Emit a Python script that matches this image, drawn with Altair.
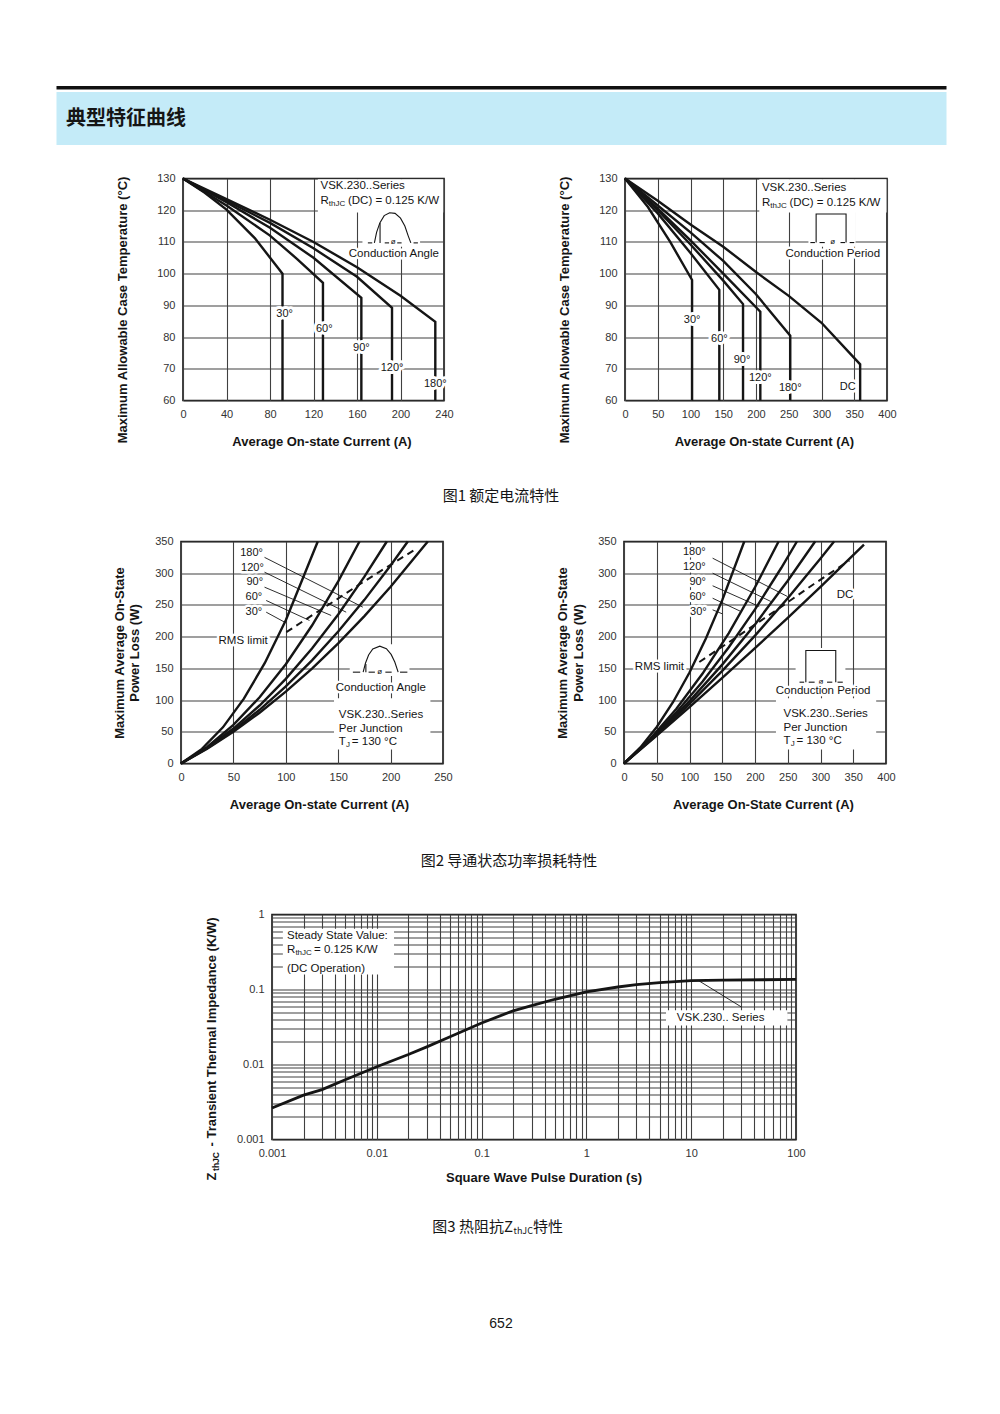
import altair as alt
import pandas as pd

FONT = "Liberation Sans"
CJK = "Noto Sans CJK SC"
INK = "#151515"
GRID = "#404040"
LBL = "#333333"

# ============================ DATA ============================
# Fig.1 left: sinusoidal conduction, max case temperature (°C) vs average current (A)
f1a_names = ["30°", "60°", "90°", "120°", "180°"]
f1a_x = [[0, 20, 40, 66, 91.5, 91.5],
         [0, 40, 80, 105, 128.7, 128.7],
         [0, 40, 80, 120, 164, 164],
         [0, 40, 80, 120, 160, 192.2, 192.2],
         [0, 40, 80, 120, 160, 200, 232, 232]]
f1a_y = [[130, 125.5, 120.2, 111.2, 100, 60],
         [130, 121.5, 112, 104.6, 97.1, 60],
         [130, 122.5, 114.5, 105, 92.4, 60],
         [130, 123, 116, 108, 99, 89.2, 60],
         [130, 123.5, 117, 110, 102, 93, 84.8, 60]]
f1a_lx = [93.4, 129.9, 164, 192.2, 232]
f1a_ly = [87.3, 82.4, 76.4, 70.3, 65.2]

# Fig.1 right: rectangular conduction
f1b_names = ["30°", "60°", "90°", "120°", "180°", "DC"]
f1b_x = [[0, 35, 69, 102.4, 102.4],
         [0, 50, 100, 144, 144],
         [0, 50, 100, 150, 180.2, 180.2],
         [0, 50, 100, 150, 206.6, 206.6],
         [0, 50, 100, 150, 200, 252.3, 252.3],
         [0, 50, 100, 150, 200, 250, 300, 359, 359]]
f1b_y = [[130, 121, 110, 98, 60],
         [130, 119, 106.5, 94.9, 60],
         [130, 120, 109.2, 97.8, 90.4, 60],
         [130, 120.5, 110.5, 100, 88, 60],
         [130, 121.5, 113, 104, 93.5, 80.4, 60],
         [130, 123, 115.5, 108.5, 100.5, 93, 84.5, 71.4, 60]]
f1b_lx = [102.4, 144, 178.6, 206.6, 252.3, 340]
f1b_ly = [85.4, 79.4, 72.7, 67.2, 63.8, 64.3]

# Fig.2 left: sinusoidal, on-state power loss (W) vs average current (A)
f2a_names = ["30°", "60°", "90°", "120°", "180°"]
f2a_x = [[0, 20, 40, 60, 80, 100, 130.5],
         [0, 25, 50, 75, 100, 125, 150, 170.3],
         [0, 25, 50, 75, 100, 125, 150, 175, 196.4],
         [0, 25, 50, 75, 100, 125, 150, 175, 200, 216.4],
         [0, 25, 50, 75, 100, 125, 150, 175, 200, 235.5]]
f2a_y = [[0, 23.0, 57.0, 102.2, 158.5, 225.9, 350],
         [0, 26.1, 60.9, 104.4, 156.6, 217.5, 287.1, 350],
         [0, 24.7, 55.1, 91.4, 133.4, 181.3, 235.0, 294.5, 350],
         [0, 23.9, 52.1, 84.7, 121.5, 162.7, 208.2, 258.0, 312.1, 350],
         [0, 23.4, 50.0, 80.0, 113.2, 149.6, 189.4, 232.4, 278.6, 350]]
f2a_rms_x = [100.5, 124.5, 148, 169, 190, 222]
f2a_rms_y = [207, 233, 258, 281, 303, 336]
f2a_lx = [67.3, 68.2, 70.4, 69.5, 69.5]
f2a_ly = [332, 308.7, 286, 262.3, 238.6]
f2a_lbl = ["180°", "120°", "90°", "60°", "30°"]
f2a_lead_x = [79.7, 79.7, 79.7, 81.3, 81.3]
f2a_lead_y = [325, 301.6, 278, 257, 238.6]
f2a_lead_x2 = [173.5, 157.6, 143.3, 122.6, 98.8]
f2a_lead_y2 = [246.5, 238.6, 233.4, 225.5, 222.9]

# Fig.2 right: rectangular
f2b_names = ["30°", "60°", "90°", "120°", "180°", "DC"]
f2b_x = [[0, 25, 50, 75, 100, 125, 150, 183.6],
         [0, 40, 80, 120, 160, 200, 236],
         [0, 40, 80, 120, 160, 200, 240, 264],
         [0, 50, 100, 150, 200, 250, 291.8],
         [0, 50, 100, 150, 200, 250, 300, 320.7],
         [0, 50, 100, 150, 200, 250, 300, 366.4]]
f2b_y = [[0, 25.3, 57.6, 97.0, 143.5, 197.0, 257.5, 350],
         [0, 39.0, 86.2, 141.8, 205.7, 277.9, 350],
         [0, 37.6, 80.7, 129.3, 183.4, 243.0, 308.2, 350],
         [0, 46.3, 98.3, 155.9, 219.2, 288.1, 350],
         [0, 45.2, 93.9, 146.0, 201.6, 260.6, 323.1, 350],
         [0, 44.0, 89.0, 134.9, 181.8, 229.7, 278.6, 345]]
f2b_rms_x = [115, 170, 230, 290, 344]
f2b_rms_y = [160, 198, 240, 283, 320]
f2b_lx = [107.4, 107.4, 112.5, 112.5, 113.5]
f2b_ly = [334.2, 309.5, 285.9, 262.2, 239.6]
f2b_lbl = ["180°", "120°", "90°", "60°", "30°"]
f2b_lead_x = [135.3, 135.3, 135.3, 135.3, 135.3]
f2b_lead_y = [323.7, 300, 280.2, 260.6, 242.3]
f2b_lead_x2 = [249.6, 224.3, 206.5, 178.6, 150]
f2b_lead_y2 = [263.3, 255.4, 247.5, 239.6, 236]

# Fig.3: transient thermal impedance (K/W) vs pulse duration (s)
f3_t = [0.001, 0.002, 0.003, 0.005, 0.01, 0.02, 0.03, 0.05, 0.1, 0.2, 0.3, 0.5,
        1, 2, 3, 5, 10, 20, 50, 100]
f3_z = [0.00263, 0.0039, 0.00462, 0.00627, 0.00935, 0.0136, 0.0172, 0.0234, 0.0358,
        0.0519, 0.0608, 0.0741, 0.0931, 0.108, 0.1164, 0.1233, 0.1315, 0.1333, 0.1349, 0.1361]

# tick values
ticks_240 = [0, 40, 80, 120, 160, 200, 240]
ticks_400 = [0, 50, 100, 150, 200, 250, 300, 350, 400]
ticks_250 = [0, 50, 100, 150, 200, 250]
ticks_temp = [60, 70, 80, 90, 100, 110, 120, 130]
ticks_pow = [0, 50, 100, 150, 200, 250, 300, 350]
log_x = [k * 10.0 ** e for e in range(-3, 2) for k in range(1, 10)] + [100]
log_y = [k * 10.0 ** e for e in range(-3, 0) for k in range(1, 10)] + [1]


# ============================ HELPERS ============================
def lines_df(names, xs, ys):
    return pd.DataFrame([{"s": n, "i": i, "x": a, "y": b}
                         for n, xl, yl in zip(names, xs, ys)
                         for i, (a, b) in enumerate(zip(xl, yl))])


def make_axis(vals, title, tx, ty, orient, lh=None, expr=None):
    kw = dict(values=vals, title=title, grid=True, gridColor=GRID, gridWidth=1.1, gridOpacity=1,
              domain=False, ticks=False, tickSize=0, labelPadding=8, labelFlush=False,
              labelOverlap=False, labelFont=FONT, labelFontSize=11, labelColor=LBL,
              titleFont=FONT, titleFontSize=13, titleFontWeight="bold", titleColor=INK,
              titleX=tx, titleY=ty, titleAlign="center")
    if orient == "left":
        kw.update(titleAngle=270, titleBaseline="middle")
    else:
        kw.update(titleBaseline="top")
    if lh:
        kw["titleLineHeight"] = lh
    if expr:
        kw["labelExpr"] = expr
    return alt.Axis(**kw)


class Panel:
    def __init__(self, w, h, xdom, ydom, xa, ya, log=False):
        self.w, self.h = w, h
        if log:
            self.xs = alt.Scale(type="log", domain=xdom, nice=False)
            self.ys = alt.Scale(type="log", domain=ydom, nice=False)
        else:
            self.xs = alt.Scale(domain=xdom, nice=False, zero=False)
            self.ys = alt.Scale(domain=ydom, nice=False, zero=False)
        self.xa, self.ya = xa, ya
        self.layers = []

    def X(self):
        return alt.X("x:Q", scale=self.xs, axis=self.xa)

    def Y(self):
        return alt.Y("y:Q", scale=self.ys, axis=self.ya)

    def rects(self, x, x2, y, y2):
        df = pd.DataFrame({"x": x, "x2": x2, "y": y, "y2": y2})
        self.layers.append(alt.Chart(df).mark_rect(color="white").encode(
            x=self.X(), x2=alt.X2(field="x2"), y=self.Y(), y2=alt.Y2(field="y2")))

    def lines(self, df, width=2.4, dash=None):
        m = dict(color=INK, strokeWidth=width, strokeJoin="miter", strokeCap="butt")
        if dash:
            m["strokeDash"] = dash
        self.layers.append(alt.Chart(df).mark_line(**m).encode(
            x=self.X(), y=self.Y(), detail="s:N", order="i:Q"))

    def rules(self, x, y, x2, y2, width=0.9):
        df = pd.DataFrame({"x": x, "y": y, "x2": x2, "y2": y2})
        self.layers.append(alt.Chart(df).mark_rule(color=INK, strokeWidth=width).encode(
            x=self.X(), y=self.Y(), x2=alt.X2(field="x2"), y2=alt.Y2(field="y2")))

    def texts(self, x, y, t, size=11.5, align="left", dx=0, dy=0, halo=0, bold=False):
        df = pd.DataFrame({"x": x, "y": y, "t": t})
        common = dict(align=align, baseline="middle", fontSize=size, font=FONT, dx=dx, dy=dy,
                      fontWeight="bold" if bold else "normal")
        enc = dict(x=self.X(), y=self.Y(), text=alt.Text("t:N"))
        if halo:
            self.layers.append(alt.Chart(df).mark_text(color="white", stroke="white",
                                                       strokeWidth=halo, strokeJoin="round",
                                                       **common).encode(**enc))
        self.layers.append(alt.Chart(df).mark_text(color=INK, **common).encode(**enc))

    def chart(self):
        return alt.layer(*self.layers).properties(
            width=self.w, height=self.h,
            view=alt.ViewBackground(stroke=INK, strokeWidth=1.6))


def spacer(w, h, fill=None):
    c = alt.Chart(pd.DataFrame({"v": [0]})).mark_point(opacity=0).properties(width=w, height=h)
    if fill:
        c = c.properties(view=alt.ViewBackground(fill=fill, stroke="transparent"))
    else:
        c = c.properties(view=alt.ViewBackground(stroke="transparent"))
    return c


def text_unit(w, h, items, fill=None):
    layers = []
    for (x, y, t, size, align, font, weight) in items:
        layers.append(alt.Chart(pd.DataFrame({"t": [t]})).mark_text(
            align=align, baseline="middle", fontSize=size, font=font, fontWeight=weight,
            color=INK).encode(x=alt.value(x), y=alt.value(y), text=alt.Text("t:N")))
    c = alt.layer(*layers).properties(width=w, height=h)
    if fill:
        c = c.properties(view=alt.ViewBackground(fill=fill, stroke="transparent"))
    else:
        c = c.properties(view=alt.ViewBackground(stroke="transparent"))
    return c


def r_thjc(P, x, y, rest, rest_dx=27.5):
    P.texts([x], [y], ["R"])
    P.texts([x], [y], ["thJC"], size=8, dx=8.4, dy=3)
    P.texts([x], [y], [rest], dx=rest_dx)


def tj(P, x, y):
    P.texts([x], [y], ["T"])
    P.texts([x], [y], ["J"], size=8, dx=7.2, dy=3)
    P.texts([x], [y], ["= 130 °C"], dx=13)


# ============================ FIG 1 LEFT ============================
W, H = 261, 222
P1 = Panel(W, H, [0, 240], [60, 130],
           make_axis(ticks_240, "Average On-state Current (A)", W / 2 + 8, 35, "bottom"),
           make_axis(ticks_temp, "Maximum Allowable Case Temperature (°C)", -61, H / 2 + 20, "left"))
P1.rects([124, 165], [239.3, 218], [119.3, 108.5], [129.8, 119.5])
P1.lines(lines_df(["hump", "v", "d1", "d2", "d3", "d4"],
                  [[176, 178, 181, 185, 190, 195, 200, 204, 207, 209.5], [181.2, 181.2],
                   [170, 174], [185.5, 189.5], [197, 201], [212, 216]],
                  [[109.7, 113, 116, 118.3, 119.2, 119, 117.5, 115, 112, 109.7], [109.7, 116],
                   [109.7, 109.7], [109.7, 109.7], [109.7, 109.7], [109.7, 109.7]]), width=1.1)
P1.lines(lines_df(f1a_names, f1a_x, f1a_y))
P1.texts(f1a_lx, f1a_ly, f1a_names, size=11, align="center", halo=6)
P1.texts([126.4], [127.6], ["VSK.230..Series"])
r_thjc(P1, 126.4, 122.9, "(DC) = 0.125 K/W")
P1.texts([193.3], [109.9], ["ø"], size=8, align="center")
P1.texts([193.9], [106.1], ["Conduction Angle"], align="center", halo=5)
chart1 = P1.chart()

# ============================ FIG 1 RIGHT ============================
W2 = 262
P2 = Panel(W2, H, [0, 400], [60, 130],
           make_axis(ticks_400, "Average On-state Current (A)", W2 / 2 + 8, 35, "bottom"),
           make_axis(ticks_temp, "Maximum Allowable Case Temperature (°C)", -61, H / 2 + 20, "left"))
P2.rects([205, 280], [399.3, 352], [119.3, 108.5], [129.8, 119.5])
P2.lines(lines_df(["p", "d1", "d2", "d3", "d4"],
                  [[291.8, 291.8, 337.5, 337.5], [283, 290], [297, 305], [329, 336], [343, 350]],
                  [[109.8, 118.8, 118.8, 109.8], [109.8, 109.8], [109.8, 109.8],
                   [109.8, 109.8], [109.8, 109.8]]), width=1.1)
P2.lines(lines_df(f1b_names, f1b_x, f1b_y))
P2.texts(f1b_lx, f1b_ly, f1b_names, size=11, align="center", halo=6)
P2.texts([209], [127], ["VSK.230..Series"])
r_thjc(P2, 209, 122.2, "(DC) = 0.125 K/W")
P2.texts([317], [110], ["ø"], size=8, align="center")
P2.texts([317.2], [106.1], ["Conduction Period"], align="center", halo=5)
chart2 = P2.chart()

# ============================ FIG 2 LEFT ============================
W3 = 262
P3 = Panel(W3, H, [0, 250], [0, 350],
           make_axis(ticks_250, "Average On-state Current (A)", W3 / 2 + 7, 35, "bottom"),
           make_axis(ticks_pow, ["Maximum Average On-State", "Power Loss (W)"], -62, H / 2,
                     "left", lh=15.5))
P3.rects([161, 146], [218, 238], [138, 22], [188, 103])
P3.lines(lines_df(["hump", "v", "d1", "d2", "d3", "d4"],
                  [[173.8, 176, 179, 183, 189.7, 196, 200.5, 204, 207.2], [176.4, 176.4],
                   [164, 171], [179, 185], [195, 201], [209, 216]],
                  [[144, 158, 171, 180.5, 185, 181, 172, 160, 144], [144, 157],
                   [144, 144], [144, 144], [144, 144], [144, 144]]), width=1.1)
P3.lines(lines_df(f2a_names, f2a_x, f2a_y))
P3.lines(lines_df(["rms"], [f2a_rms_x], [f2a_rms_y]), width=2, dash=[7, 5])
P3.rules(f2a_lead_x, f2a_lead_y, f2a_lead_x2, f2a_lead_y2)
P3.texts(f2a_lx, f2a_ly, f2a_lbl, size=11, align="center", halo=5)
P3.texts([59.3], [192.4], ["RMS limit"], align="center", halo=5)
P3.texts([189.7], [144.3], ["ø"], size=8, align="center")
P3.texts([190.7], [118.8], ["Conduction Angle"], align="center", halo=5)
P3.texts([150.6], [76.8], ["VSK.230..Series"])
P3.texts([150.6], [54.7], ["Per Junction"])
tj(P3, 150.6, 33.6)
chart3 = P3.chart()

# ============================ FIG 2 RIGHT ============================
P4 = Panel(W2, H, [0, 400], [0, 350],
           make_axis(ticks_400, "Average On-State Current (A)", W2 / 2 + 8, 35, "bottom"),
           make_axis(ticks_pow, ["Maximum Average On-State", "Power Loss (W)"], -61.5, H / 2,
                     "left", lh=15.5))
P4.rects([262, 232], [338, 385], [122, 22], [182, 103])
P4.lines(lines_df(["p", "d1", "d2", "d3", "d4"],
                  [[277.6, 277.6, 323.3, 323.3], [268, 275], [282, 291], [310, 318], [326, 334]],
                  [[128.2, 178.1, 178.1, 128.2], [128.2, 128.2], [128.2, 128.2],
                   [128.2, 128.2], [128.2, 128.2]]), width=1.1)
P4.lines(lines_df(f2b_names, f2b_x, f2b_y))
P4.lines(lines_df(["rms"], [f2b_rms_x], [f2b_rms_y]), width=2, dash=[7, 5])
P4.rules(f2b_lead_x, f2b_lead_y, f2b_lead_x2, f2b_lead_y2)
P4.texts(f2b_lx, f2b_ly, f2b_lbl, size=11, align="center", halo=5)
P4.texts([54.1], [151.8], ["RMS limit"], align="center", halo=5)
P4.texts([337.5], [266], ["DC"], align="center", halo=5)
P4.texts([300.5], [128.5], ["ø"], size=8, align="center")
P4.texts([304], [114], ["Conduction Period"], align="center", halo=5)
P4.texts([243.5], [77.3], ["VSK.230..Series"])
P4.texts([243.5], [55.7], ["Per Junction"])
tj(P4, 243.5, 34.7)
chart4 = P4.chart()

# ============================ FIG 3 ============================
W5, H5 = 524, 225
decade_expr = ("abs(log(datum.value)/LN10 - round(log(datum.value)/LN10)) < 0.01 "
               "? format(datum.value, '~g') : ''")
ax5x = make_axis(log_x, "Square Wave Pulse Duration (s)", W5 / 2 + 9.5, 32, "bottom", expr=decade_expr)
ax5y = make_axis(log_y, "- Transient Thermal Impedance (K/W)", -60.5, 117, "left", expr=decade_expr)
P5 = Panel(W5, H5, [0.001, 100], [0.001, 1], ax5x, ax5y, log=True)
P5.rects([0.00127, 5.75], [0.0146, 82.8], [0.158, 0.033], [0.645, 0.0527])
P5.lines(lines_df(["z"], [f3_t], [f3_z]), width=2.8)
P5.rules([11.7], [0.132], [30.1], [0.0585])
P5.texts([0.00139], [0.524], ["Steady State Value:"])
r_thjc(P5, 0.00139, 0.334, "= 0.125 K/W", rest_dx=27)
P5.texts([0.00139], [0.19], ["(DC Operation)"])
P5.texts([19.1], [0.0415], ["VSK.230.. Series"], align="center")
# subscripted start of the y-axis title
zlab = pd.DataFrame({"t": ["Z"]})
P5.layers.append(alt.Chart(zlab).mark_text(angle=270, align="center", baseline="middle",
                                           fontSize=13, fontWeight="bold", font=FONT, color=INK)
                 .encode(x=alt.value(-60.5), y=alt.value(262), text=alt.Text("t:N")))
zsub = pd.DataFrame({"t": ["thJC"]})
P5.layers.append(alt.Chart(zsub).mark_text(angle=270, align="center", baseline="middle",
                                           fontSize=8.5, fontWeight="bold", font=FONT, color=INK)
                 .encode(x=alt.value(-56), y=alt.value(247), text=alt.Text("t:N")))
chart5 = P5.chart()

# ============================ PAGE LAYOUT ============================
PW = 890
bar = spacer(PW, 3.5, fill="#111111")
band = text_unit(PW, 53, [(10, 27, "典型特征曲线", 20, "left", CJK, "bold")], fill="#c4ebf8")
gap1 = spacer(PW, 24)
row1 = alt.hconcat(spacer(58.5, 10), chart1, spacer(101, 10), chart2, spacing=0)
cap1 = text_unit(PW, 83.5, [(445, 45, "图1  额定电流特性", 15, "center", CJK, "normal")])
row2 = alt.hconcat(spacer(55.5, 10), chart3, spacer(100.5, 10), chart4, spacing=0)
cap2 = text_unit(PW, 93.5, [(453, 47, "图2  导通状态功率损耗特性", 15, "center", CJK, "normal")])
row3 = alt.hconcat(spacer(147, 10), chart5, spacing=0)
cap3 = text_unit(PW, 150, [(457, 40.5, "图3  热阻抗Z", 15, "right", CJK, "normal"),
                           (457.5, 44.5, "thJC", 9, "left", CJK, "normal"),
                           (477, 40.5, "特性", 15, "left", CJK, "normal"),
                           (445, 137, "652", 14, "center", FONT, "normal")])

page = alt.vconcat(bar, band, gap1, row1, cap1, row2, cap2, row3, cap3, spacing=0).properties(
    padding={"left": 47, "top": 75.5, "right": 5, "bottom": 5}
).configure(font=FONT).configure_view(stroke="transparent")

page.save("out.html", embed_options={"renderer": "svg", "actions": False})
